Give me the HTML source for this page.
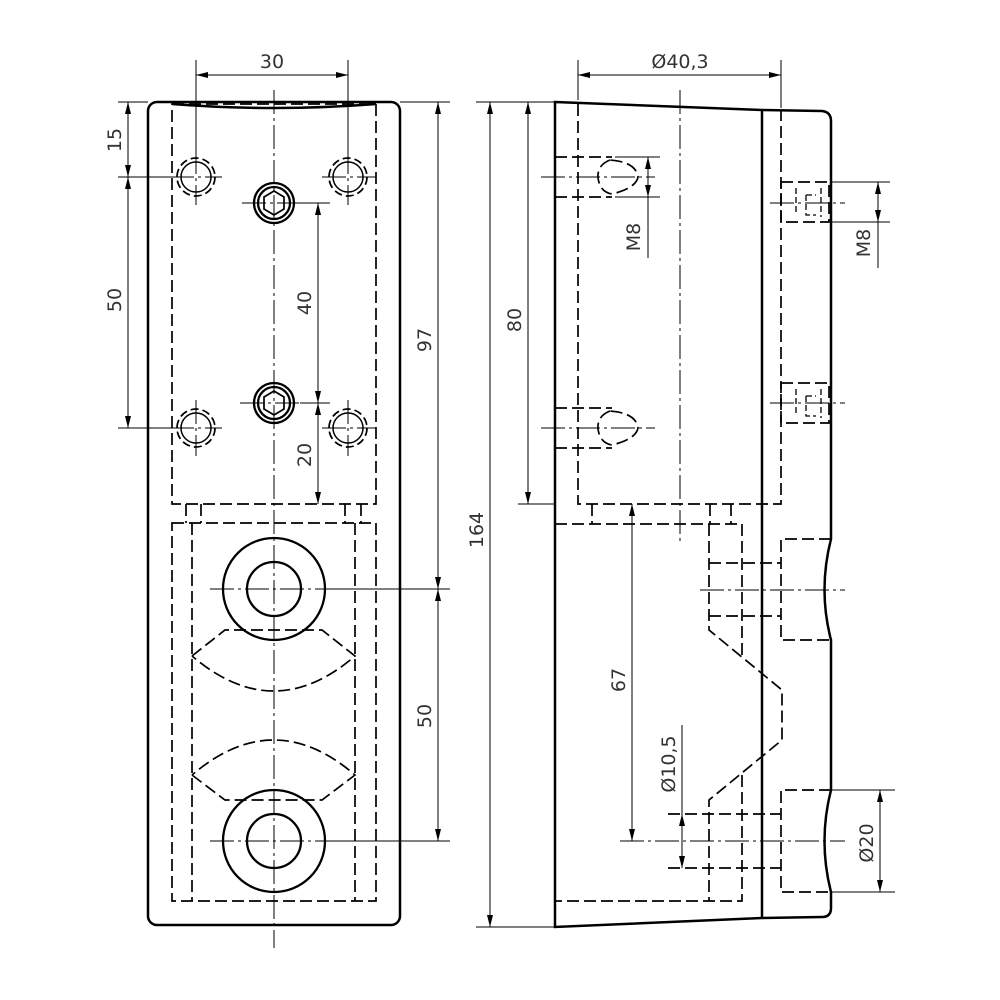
<!DOCTYPE html>
<html><head><meta charset="utf-8"><style>
html,body{margin:0;padding:0;background:#fff;}
svg{display:block}
text{font-family:"DejaVu Sans","Liberation Sans",sans-serif;font-size:19px;fill:#333;}
</style></head><body>
<svg width="1000" height="1000" viewBox="0 0 1000 1000" xmlns="http://www.w3.org/2000/svg">
<defs>
<marker id="a" viewBox="0 0 12 6" refX="12" refY="3" markerWidth="12" markerHeight="6" markerUnits="userSpaceOnUse" orient="auto-start-reverse"><path d="M0,0 L12,3 L0,6z" fill="#000"/></marker>
</defs>
<g fill="none" stroke="#000">
<!-- LEFT VIEW -->
<rect x="148" y="102" width="252" height="823" rx="9" stroke-width="2.5"/>
<path d="M172,104 Q274,112 376,104" stroke-width="2.5"/>
<g stroke-width="1.7" stroke-dasharray="12,5">
<rect x="172" y="104" width="204" height="400"/>
<path d="M186,504V523M201,504V523M345,504V523M361,504V523"/>
<rect x="172" y="523" width="204" height="378"/>
<path d="M192,523V901M355,523V901"/>
<path d="M192,656 L225,630 H322 L355,656 Q274,726 192,656"/>
<path d="M192,775 L225,800 H322 L355,775 Q274,705 192,775"/>
<g stroke-dasharray="8,4">
<circle cx="196" cy="177" r="19"/><circle cx="348" cy="177" r="19"/>
<circle cx="196" cy="428" r="19"/><circle cx="348" cy="428" r="19"/>
</g>
</g>
<g stroke-width="1.5">
<circle cx="196" cy="177" r="15"/><circle cx="348" cy="177" r="15"/>
<circle cx="196" cy="428" r="15"/><circle cx="348" cy="428" r="15"/>
</g>
<g stroke-width="2.3">
<circle cx="274" cy="203" r="20"/><circle cx="274" cy="203" r="16"/>
<circle cx="274" cy="403" r="20"/><circle cx="274" cy="403" r="16"/>
<circle cx="274" cy="589" r="51"/><circle cx="274" cy="589" r="27"/>
<circle cx="274" cy="841" r="51"/><circle cx="274" cy="841" r="27"/>
</g>
<g stroke-width="1.7">
<path d="M264,197L274,191L284,197V209L274,215L264,209Z"/>
<path d="M264,397L274,391L284,397V409L274,415L264,409Z"/>
</g>
<g stroke-width="1" stroke-dasharray="24,4,3,4">
<path d="M274,90V948"/>
<path d="M170,177H222M322,177H376M170,428H222M322,428H376"/>
<path d="M196,150V205M348,150V205M196,400V456M348,400V456"/>
<path d="M242,203H330M240,403H330"/>
<path d="M210,589H330M210,841H330"/>
</g>
<g stroke-width="1">
<path d="M196,60V170M348,60V170"/>
<path d="M196,75H348" marker-start="url(#a)" marker-end="url(#a)"/>
<path d="M118,102H148M118,177H178M118,428H178"/>
<path d="M128,102V177" marker-start="url(#a)" marker-end="url(#a)"/>
<path d="M128,177V428" marker-start="url(#a)" marker-end="url(#a)"/>
<path d="M300,203H330M300,403H330"/>
<path d="M318,203V403" marker-start="url(#a)" marker-end="url(#a)"/>
<path d="M318,403V504" marker-start="url(#a)" marker-end="url(#a)"/>
<path d="M400,102H450M325,589H450M325,841H450"/>
<path d="M438,102V589" marker-start="url(#a)" marker-end="url(#a)"/>
<path d="M438,589V841" marker-start="url(#a)" marker-end="url(#a)"/>
</g>
<!-- RIGHT VIEW -->
<path d="M555,102 L762,110 L822,111 Q831,112 831,121 V539 Q818,590 831,640 V790 Q818,841 831,892 V908 Q831,917 822,917 L762,918 L555,927 Z" stroke-width="2.5"/>
<path d="M762,110V918" stroke-width="2.5"/>
<g stroke-width="1.7" stroke-dasharray="12,5">
<path d="M578,104V504H781V110"/>
<path d="M555,524H742V655M742,775V901H555"/>
<path d="M592,504V524M710,504V524M731,504V524"/>
<path d="M709,524V630L782,690V740L709,800V901"/>
<path d="M709,563H781M709,616H781"/>
<path d="M831,539H781V640H831M831,790H781V892H831"/>
<path d="M668,814H781M668,868H781"/>
<path d="M555,157H612M555,197H612M555,408H612M555,448H612"/>
<path d="M610,160 Q597,165 598,178 Q600,192 612,194 Q636,188 638,177 Q636,162 610,160"/>
<path d="M610,411 Q597,416 598,429 Q600,443 612,445 Q636,439 638,428 Q636,413 610,411"/>
<path d="M781,182H829V222H781ZM781,383H829V423H781Z"/>
</g>
<g stroke-width="1.3" stroke-dasharray="6,3">
<path d="M796,188V215M806,195V215H816M806,195H816M821,188V217"/>
<path d="M796,389V416M806,396V416H816M806,396H816M821,389V418"/>
</g>
<g stroke-width="1" stroke-dasharray="24,4,3,4">
<path d="M680,90V545"/>
<path d="M541,177H655M541,428H655"/>
<path d="M770,203H845M770,403H845"/>
<path d="M700,590H845M620,841H845"/>
</g>
<g stroke-width="1">
<path d="M578,60V100M781,60V108"/>
<path d="M578,75H781" marker-start="url(#a)" marker-end="url(#a)"/>
<path d="M476,102H555M476,927H555M518,504H555"/>
<path d="M490,102V927" marker-start="url(#a)" marker-end="url(#a)"/>
<path d="M528,102V504" marker-start="url(#a)" marker-end="url(#a)"/>
<path d="M615,157H660M615,197H660"/>
<path d="M648,157V197" marker-start="url(#a)" marker-end="url(#a)"/>
<path d="M648,197V258"/>
<path d="M831,182H890M831,222H890"/>
<path d="M878,182V222" marker-start="url(#a)" marker-end="url(#a)"/>
<path d="M878,222V268"/>
<path d="M632,504V841" marker-start="url(#a)" marker-end="url(#a)"/>
<path d="M682,814V868" marker-start="url(#a)" marker-end="url(#a)"/>
<path d="M682,725V814"/>
<path d="M831,790H895M831,892H895"/>
<path d="M880,790V892" marker-start="url(#a)" marker-end="url(#a)"/>
</g>
</g>
<text x="272" y="68" text-anchor="middle">30</text>
<text x="680" y="68" text-anchor="middle">Ø40,3</text>
<text transform="translate(121,140) rotate(-90)" text-anchor="middle">15</text>
<text transform="translate(121,300) rotate(-90)" text-anchor="middle">50</text>
<text transform="translate(311,303) rotate(-90)" text-anchor="middle">40</text>
<text transform="translate(311,455) rotate(-90)" text-anchor="middle">20</text>
<text transform="translate(431,340) rotate(-90)" text-anchor="middle">97</text>
<text transform="translate(431,716) rotate(-90)" text-anchor="middle">50</text>
<text transform="translate(483,530) rotate(-90)" text-anchor="middle">164</text>
<text transform="translate(521,320) rotate(-90)" text-anchor="middle">80</text>
<text transform="translate(640,237) rotate(-90)" text-anchor="middle">M8</text>
<text transform="translate(870,243) rotate(-90)" text-anchor="middle">M8</text>
<text transform="translate(625,680) rotate(-90)" text-anchor="middle">67</text>
<text transform="translate(675,764) rotate(-90)" text-anchor="middle">Ø10,5</text>
<text transform="translate(873,843) rotate(-90)" text-anchor="middle">Ø20</text>
</svg>
</body></html>
